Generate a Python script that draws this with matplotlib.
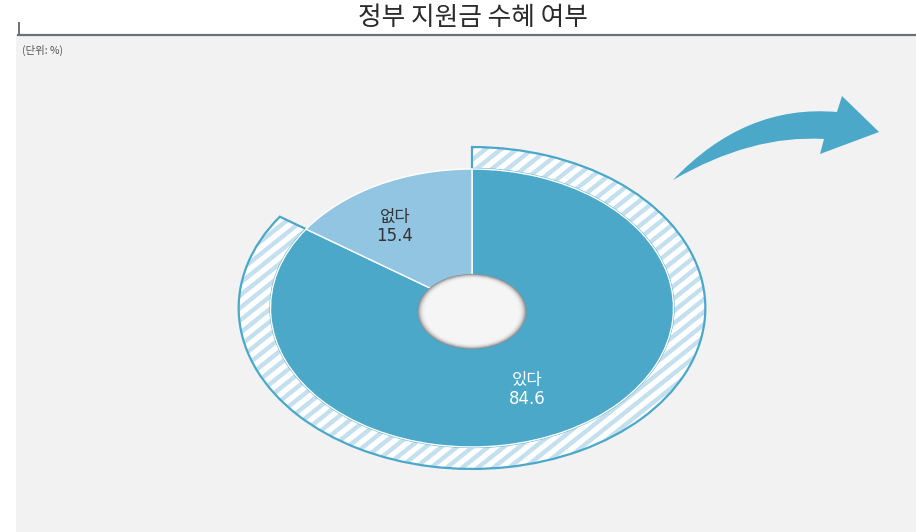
import numpy as np
import matplotlib
matplotlib.use("Agg")
import matplotlib.pyplot as plt
from matplotlib.patches import Wedge, Circle, Rectangle, PathPatch
from matplotlib.path import Path
from matplotlib.transforms import Affine2D
from matplotlib.lines import Line2D

# ---- data ----
title = "정부 지원금 수혜 여부"
unit_label = "(단위: %)"
categories = ["있다", "없다"]
values = [84.6, 15.4]

# ---- style ----
c_main = "#4ba8c9"
c_light = "#92c5e1"
c_stripe = "#c4e0ef"
c_bg = "#f2f2f2"

W, H = 916, 532
fig = plt.figure(figsize=(W / 100, H / 100), dpi=100)
pix = Affine2D().scale(1 / W, -1 / H).translate(0, 1) + fig.transFigure

ax = fig.add_axes([0, 0, 1, 1])
cx, cy = 472, 308          # pie centre (pixels from top-left)
sx, sy = 201.5, 139.0      # pixels per unit (stretched horizontally)
ax.set_axis_off()

# panel
fig.patches.append(Rectangle((16, 36), W - 16, H - 36, transform=pix,
                             facecolor=c_bg, edgecolor="none", zorder=-5))

wedges, _ = ax.pie(values, startangle=90, counterclock=False, radius=1.0,
                   colors=[c_main, c_light],
                   wedgeprops=dict(edgecolor="white", linewidth=1.0))
ax.set_aspect("auto")
ax.set_xlim(-cx / sx, (W - cx) / sx)
ax.set_ylim((cy - H) / sy, cy / sy)

# hatched outer band for the main slice
w0 = wedges[0]
band_out = 1.158
band = Wedge((0, 0), band_out, w0.theta1, w0.theta2, width=band_out - 1.0,
             facecolor="white", edgecolor="none", zorder=0.5)
ax.add_patch(band)
slope = 0.8
for c in np.arange(-600, 1400, 12.5):
    xs = np.array([150, 800])
    ys = c - slope * xs
    ln = Line2D(xs, ys, transform=pix, color=c_stripe, linewidth=3.2,
                solid_capstyle="butt", zorder=0.6)
    ax.add_line(ln)
    ln.set_clip_path(band)
band_edge = Wedge((0, 0), band_out, w0.theta1, w0.theta2,
                  width=band_out - 1.0, facecolor="none",
                  edgecolor=c_main, linewidth=1.6, zorder=0.7)
ax.add_patch(band_edge)

# hole with soft inner shadow
hr = 0.27
hy = -0.025
sw = 0.04
n = 14
for i in range(n):
    t = i / (n - 1)
    r = hr - sw * t
    g = 0.55 + (0.96 - 0.55) * (1 - (1 - t) ** 2.5)
    ax.add_patch(Circle((0, hy), r, facecolor=(g, g, g), edgecolor="none",
                        zorder=3 + i * 0.01))
ax.add_patch(Circle((0, hy), hr - sw, facecolor="#f5f5f5",
                    edgecolor="none", zorder=3.5))

# labels
fam = ["DejaVu Sans", "Noto Sans CJK KR"]
shifts = [(-0.035, 0.0), (-0.075, 0.0)]
tcolors = ["white", "#333333"]
for w, cat, v, (dx, dy), tc in zip(wedges, categories, values, shifts, tcolors):
    mid = np.deg2rad((w.theta1 + w.theta2) / 2)
    x = 0.66 * np.cos(mid) + dx
    y = 0.66 * np.sin(mid) + dy
    ax.text(x, y, f"{cat}\n{v:.1f}", ha="center", va="center",
            fontsize=12, color=tc, family=fam, linespacing=1.1, zorder=5)

# curved arrow (decoration)
verts = [(673, 180), (745, 104), (837, 112), (842, 96), (879, 132),
         (820, 154), (824, 139), (751.5, 134.5), (673, 180), (673, 180)]
codes = [Path.MOVETO, Path.CURVE3, Path.CURVE3, Path.LINETO, Path.LINETO,
         Path.LINETO, Path.LINETO, Path.CURVE3, Path.CURVE3, Path.CLOSEPOLY]
fig.patches.append(PathPatch(Path(verts, codes), transform=pix,
                             facecolor=c_main, edgecolor="none", zorder=2))

# title and header line
fig.text(473 / W, 1 - 18 / H, title, ha="center", va="center", fontsize=18.5,
         color="#2b2b2b", family=["Noto Sans CJK KR"], weight="medium")
fig.lines.append(Line2D([18, W], [35, 35], transform=pix, color="#6d7174",
                        linewidth=1.6))
fig.lines.append(Line2D([18.5, 18.5], [23, 35], transform=pix,
                        color="#6d7174", linewidth=1.4))
fig.text(22 / W, 1 - 50 / H, unit_label, ha="left", va="center", fontsize=7.5,
         color="#555555", family=["Noto Sans CJK KR"])

fig.savefig("out.png", dpi=100)
